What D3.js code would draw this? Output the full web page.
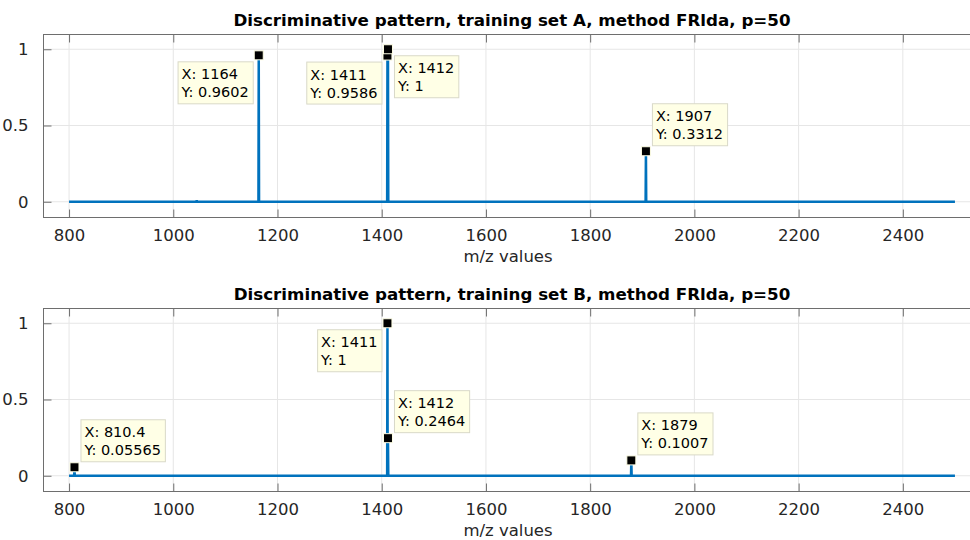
<!DOCTYPE html>
<html>
<head>
<meta charset="utf-8">
<script src="https://cdnjs.cloudflare.com/ajax/libs/d3/7.8.5/d3.min.js"></script>
<style>
  body { margin: 0; background: #fff; }
  text { font-family: "DejaVu Sans", sans-serif; fill: #262626; }
</style>
</head>
<body>
<svg id="chart" width="970" height="540"></svg>
<script>
// spectrum range
var mzStart = 800, mzEnd = 2500;

// set A peaks
var peaksA_mz = [1045, 1164, 1411, 1412, 1907];
var peaksA_val = [0.01, 0.9602, 0.9586, 1, 0.3312];
var tipsA_mz = [1164, 1411, 1412, 1907];
var tipsA_val = [0.9602, 0.9586, 1, 0.3312];
var tipsA_lbl = [["X: 1164", "Y: 0.9602"], ["X: 1411", "Y: 0.9586"], ["X: 1412", "Y: 1"], ["X: 1907", "Y: 0.3312"]];
var tipsA_side = ["sw", "sw", "se", "ne"];

// set B peaks
var peaksB_mz = [810.4, 1411, 1412, 1879];
var peaksB_val = [0.05565, 1, 0.2464, 0.1007];
var tipsB_mz = [810.4, 1411, 1412, 1879];
var tipsB_val = [0.05565, 1, 0.2464, 0.1007];
var tipsB_lbl = [["X: 810.4", "Y: 0.05565"], ["X: 1411", "Y: 1"], ["X: 1412", "Y: 0.2464"], ["X: 1879", "Y: 0.1007"]];
var tipsB_side = ["ne", "sw", "ne", "ne"];

var xTicks = [800, 1000, 1200, 1400, 1600, 1800, 2000, 2200, 2400];
var yTicks = [0, 0.5, 1];

var svg = d3.select("#chart");
var lineColor = "#0072BD";

function buildSpectrum(mz, val) {
  var pts = [[mzStart, 0]];
  mz.forEach(function(m, i) {
    pts.push([m - 0.6, 0]);
    pts.push([m, val[i]]);
    pts.push([m + 0.6, 0]);
  });
  pts.push([mzEnd, 0]);
  pts.sort(function(a, b) { return a[0] - b[0]; });
  return pts;
}

function drawPanel(top, title, mz, val, tmz, tval, tlbl, tside) {
  var left = 43, right = 981, h = 183;
  var x = d3.scaleLinear().domain([750, 2550]).range([left, right]);
  var y = d3.scaleLinear().domain([-0.1, 1.1]).range([top + h, top]);
  var g = svg.append("g");

  // grid
  g.selectAll(".gx").data(xTicks).enter().append("line")
    .attr("x1", function(d) { return x(d); }).attr("x2", function(d) { return x(d); })
    .attr("y1", top).attr("y2", top + h)
    .attr("stroke", "#e6e6e6").attr("stroke-width", 1);
  g.selectAll(".gy").data(yTicks).enter().append("line")
    .attr("y1", function(d) { return y(d); }).attr("y2", function(d) { return y(d); })
    .attr("x1", left).attr("x2", right)
    .attr("stroke", "#e6e6e6").attr("stroke-width", 1);

  // box
  g.append("rect").attr("x", left + 0.5).attr("y", top + 0.5)
    .attr("width", right - left).attr("height", h)
    .attr("fill", "none").attr("stroke", "#6e6e6e").attr("stroke-width", 1);

  // axes with inward ticks
  var xb = g.append("g").attr("transform", "translate(0," + (top + h + 0.5) + ")")
    .call(d3.axisBottom(x).tickValues(xTicks).tickSize(-8).tickPadding(12).tickFormat(d3.format("d")));
  var xt = g.append("g").attr("transform", "translate(0," + (top + 0.5) + ")")
    .call(d3.axisTop(x).tickValues(xTicks).tickSize(-8).tickFormat(""));
  var yl = g.append("g").attr("transform", "translate(" + (left + 0.5) + ",0)")
    .call(d3.axisLeft(y).tickValues(yTicks).tickSize(-8).tickPadding(15).tickFormat(function(d) { return d; }));
  [xb, xt, yl].forEach(function(a) {
    a.select(".domain").remove();
    a.selectAll(".tick line").attr("stroke", "#6e6e6e");
    a.selectAll(".tick text").attr("font-size", 16.5).attr("fill", "#262626")
      .style("font-family", "DejaVu Sans, sans-serif");
  });

  // title
  g.append("text").attr("x", (left + right) / 2).attr("y", top - 8)
    .attr("text-anchor", "middle").attr("font-size", 16.7).attr("font-weight", "bold")
    .attr("fill", "#000").style("fill", "#000").text(title);
  // xlabel
  g.append("text").attr("x", (left + right) / 2 - 4).attr("y", top + h + 45)
    .attr("text-anchor", "middle").attr("font-size", 16.5).text("m/z values");

  // spectrum
  var line = d3.line().x(function(d) { return x(d[0]); }).y(function(d) { return y(d[1]); });
  g.append("path").datum(buildSpectrum(mz, val))
    .attr("d", line).attr("fill", "none")
    .attr("stroke", lineColor).attr("stroke-width", 2.5);

  // datatips
  tmz.forEach(function(m, i) {
    var mx = x(m), my = y(tval[i]);
    var tip = g.append("g");
    var t1 = tip.append("text").attr("font-size", 14.5).attr("fill", "#000").style("fill", "#000").text(tlbl[i][0]);
    var t2 = tip.append("text").attr("font-size", 14.5).attr("fill", "#000").style("fill", "#000").text(tlbl[i][1]);
    var w = Math.max(t1.node().getComputedTextLength(), t2.node().getComputedTextLength()) + 8;
    var bh = 42, gap = 6;
    var bx = tside[i].indexOf("e") >= 0 ? mx + gap : mx - gap - w;
    var by = tside[i].indexOf("n") >= 0 ? my - gap - bh : my + gap;
    tip.insert("rect", "text").attr("x", bx + 0.5).attr("y", by + 0.5).attr("width", w).attr("height", bh)
      .attr("fill", "#ffffe6").attr("stroke", "#d9d9c8").attr("stroke-width", 1);
    t1.attr("x", bx + 4).attr("y", by + 18);
    t2.attr("x", bx + 4).attr("y", by + 36);
    g.append("rect").attr("x", mx - 4.5).attr("y", my - 4.5).attr("width", 9).attr("height", 9)
      .attr("fill", "#000").attr("stroke", "#ffffe6").attr("stroke-width", 1);
  });
}

drawPanel(34, "Discriminative pattern, training set A, method FRlda, p=50",
  peaksA_mz, peaksA_val, tipsA_mz, tipsA_val, tipsA_lbl, tipsA_side);
drawPanel(308, "Discriminative pattern, training set B, method FRlda, p=50",
  peaksB_mz, peaksB_val, tipsB_mz, tipsB_val, tipsB_lbl, tipsB_side);
</script>
</body>
</html>
